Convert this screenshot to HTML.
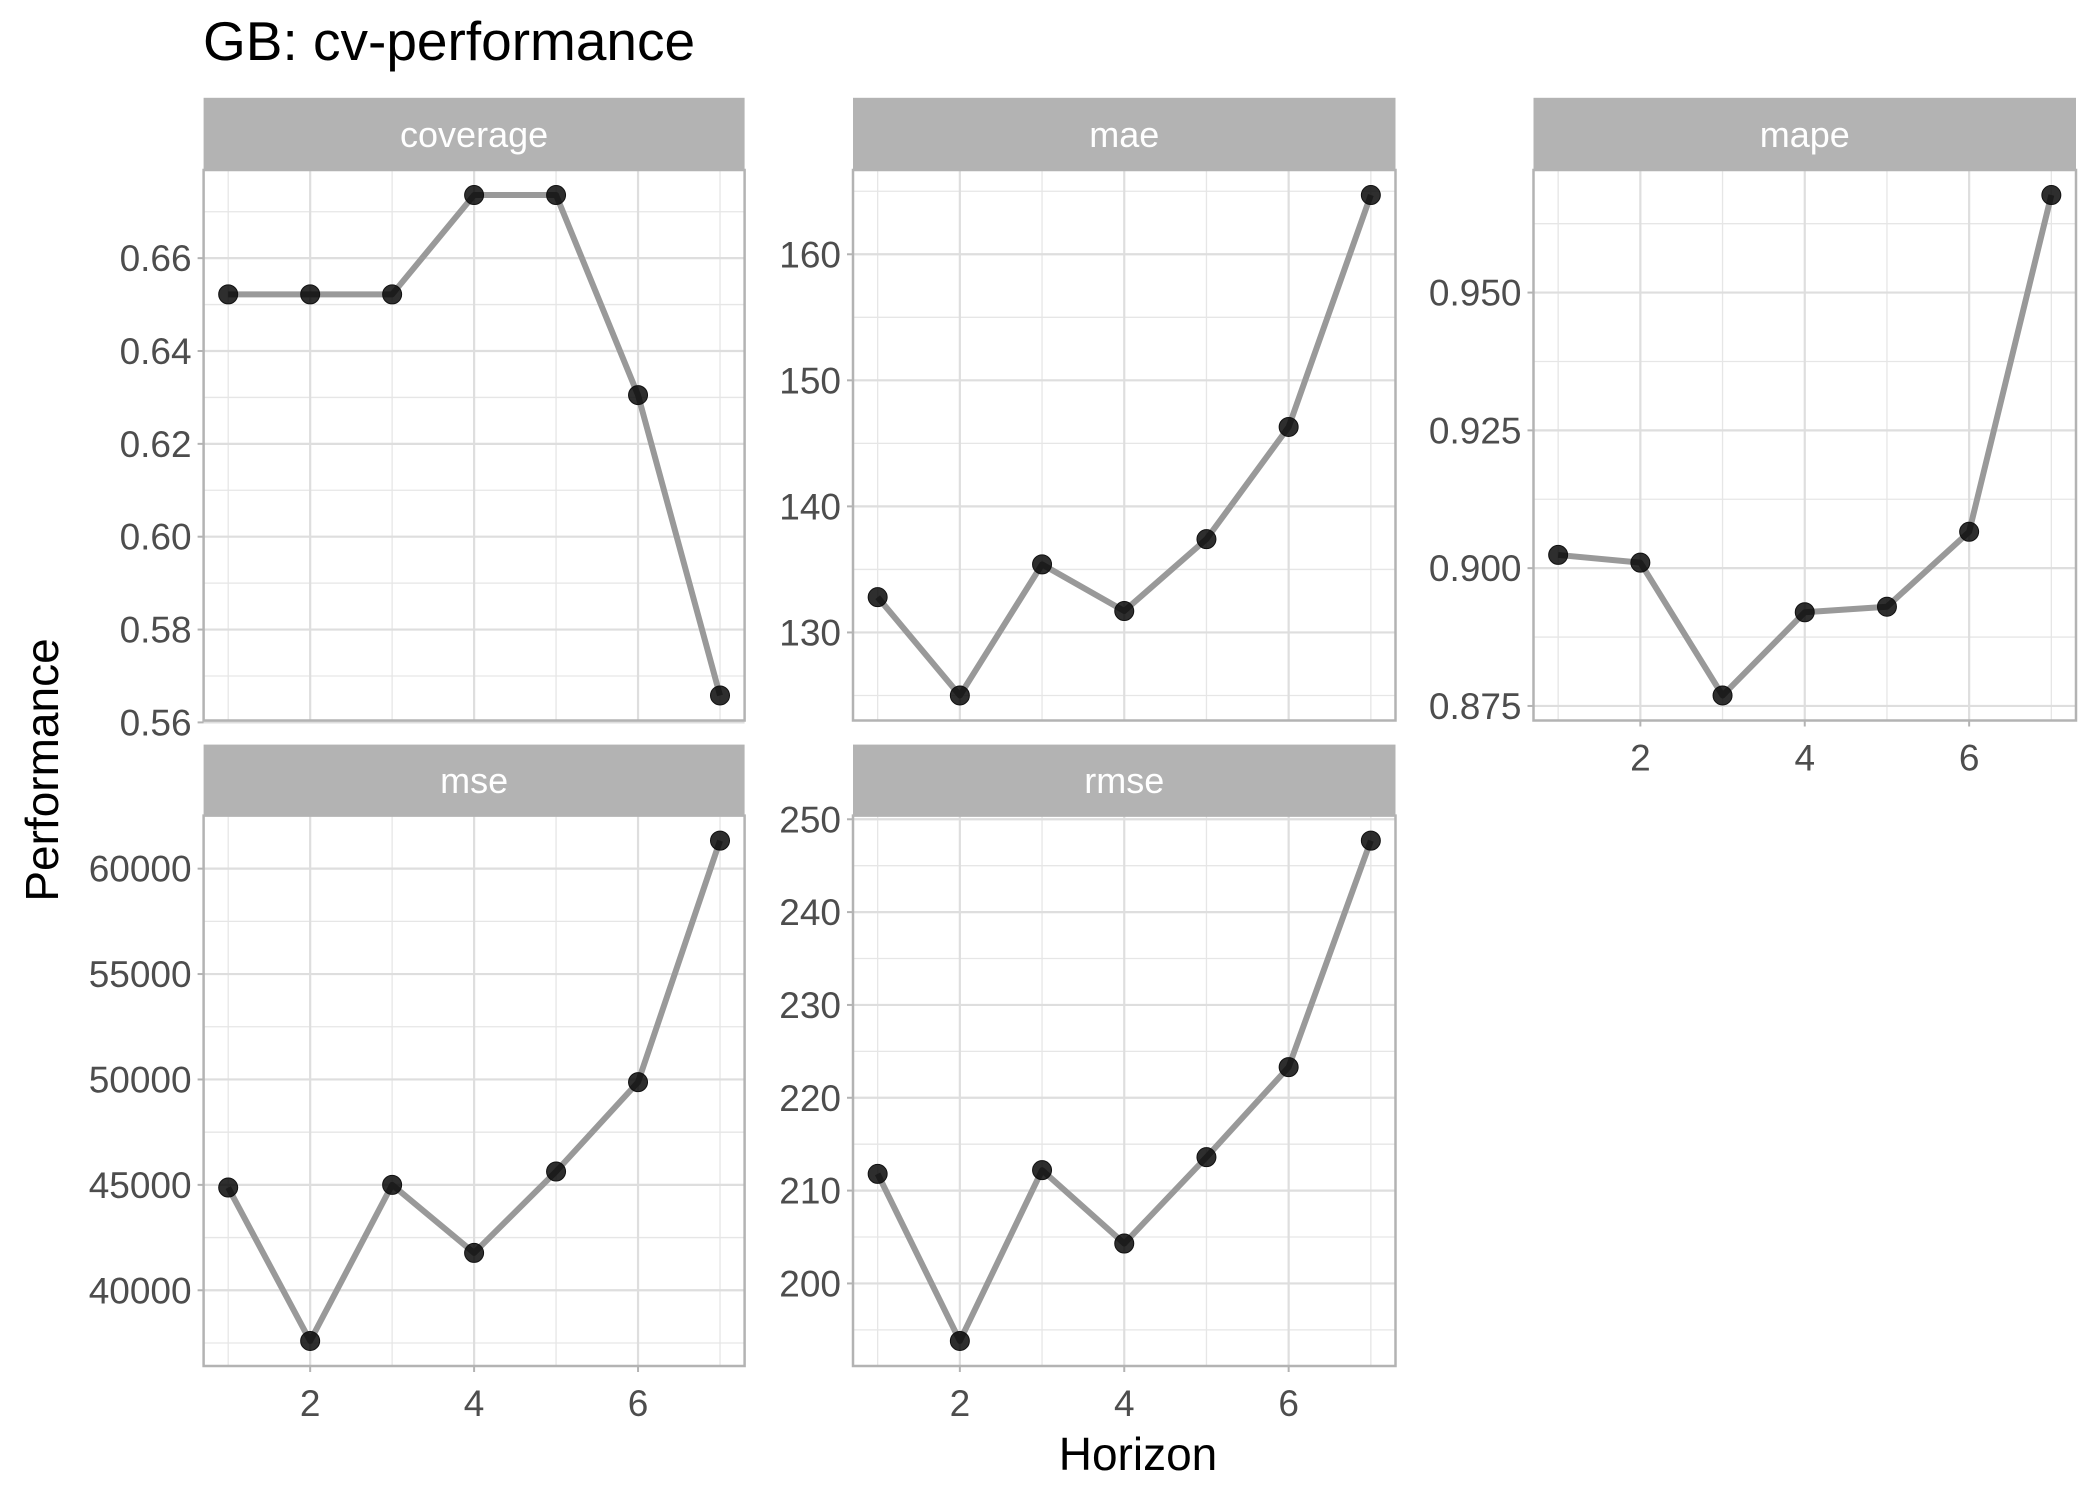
<!DOCTYPE html>
<html><head><meta charset="utf-8"><style>
html,body{margin:0;padding:0;background:#fff;}
svg{display:block;font-family:"Liberation Sans",sans-serif;}
</style></head><body>
<svg id="chart" width="2100" height="1500" viewBox="0 0 2100 1500" xmlns="http://www.w3.org/2000/svg">
<text x="203" y="60" font-size="55" fill="#000">GB: cv-performance</text>
<text transform="translate(58,770) rotate(-90)" text-anchor="middle" font-size="46" fill="#000">Performance</text>
<text x="1138" y="1470" text-anchor="middle" font-size="46" fill="#000">Horizon</text>
<g id="panels"></g>
</svg>
<script>
const horizons = [1,2,3,4,5,6,7];
const coverageVals = [0.6522,0.6522,0.6522,0.6736,0.6736,0.6305,0.5658];
const maeVals = [132.8,125.0,135.4,131.7,137.4,146.3,164.7];
const mapeVals = [0.9024,0.9010,0.8769,0.8920,0.8930,0.9066,0.9677];
const mseVals = [44873,37595,45000,41772,45633,49873,61329];
const rmseVals = [211.8,193.8,212.2,204.3,213.6,223.3,247.7];
const coverageTicks = [0.56,0.58,0.60,0.62,0.64,0.66];
const maeTicks = [130,140,150,160];
const mapeTicks = [0.875,0.900,0.925,0.950];
const mseTicks = [40000,45000,50000,55000,60000];
const rmseTicks = [200,210,220,230,240,250];
const xTicks = [2,4,6];

const NS="http://www.w3.org/2000/svg";
const root=document.getElementById('panels');
function mk(tag,attrs,parent){const e=document.createElementNS(NS,tag);for(const k in attrs)e.setAttribute(k,attrs[k]);(parent||root).appendChild(e);return e;}

const panels=[
 {name:'coverage',vals:coverageVals,ticks:coverageTicks,dec:2,x0:203.6,x1:744.6,st:97.8,y0:170,y1:720.5,xlab:false},
 {name:'mae',vals:maeVals,ticks:maeTicks,dec:0,x0:853,x1:1395.5,st:97.8,y0:170,y1:720.5,xlab:false},
 {name:'mape',vals:mapeVals,ticks:mapeTicks,dec:3,x0:1533.5,x1:2076,st:97.8,y0:170,y1:720.5,xlab:true},
 {name:'mse',vals:mseVals,ticks:mseTicks,dec:0,x0:203.6,x1:744.6,st:744.6,y0:815.6,y1:1366,xlab:true},
 {name:'rmse',vals:rmseVals,ticks:rmseTicks,dec:0,x0:853,x1:1395.5,st:744.6,y0:815.6,y1:1366,xlab:true}
];

panels.forEach(p=>{
  const g=mk('g',{});
  
  
  const mn=Math.min(...p.vals),mx=Math.max(...p.vals),pad=(mx-mn)*0.05;
  const lo=mn-pad,hi=mx+pad;
  const xs=v=>p.x0+(v-0.7)/6.6*(p.x1-p.x0);
  const ys=v=>p.y1-(v-lo)/(hi-lo)*(p.y1-p.y0);
  const s=mk('rect',{x:p.x0,y:p.st,width:p.x1-p.x0,height:p.y0-p.st,fill:'#b3b3b3'},g);
  
  
  const st=mk('text',{x:(p.x0+p.x1)/2,y:(p.st+p.y0)/2+13,'text-anchor':'middle','font-size':36,fill:'#fff'},g);
  st.textContent=p.name;
  
  
  const step=p.ticks[1]-p.ticks[0];
  for(let v=p.ticks[0]-step/2;v<=hi+1e-9;v+=step){ if(v<lo)continue;
    mk('line',{x1:p.x0,x2:p.x1,y1:ys(v),y2:ys(v),stroke:'#e6e6e6','stroke-width':1.3},g);}
  [1,3,5,7].forEach(v=>mk('line',{x1:xs(v),x2:xs(v),y1:p.y0,y2:p.y1,stroke:'#e6e6e6','stroke-width':1.3},g));
  p.ticks.forEach(v=>{
    mk('line',{x1:p.x0,x2:p.x1,y1:ys(v),y2:ys(v),stroke:'#dedede','stroke-width':2.2},g);
    mk('line',{x1:p.x0-6,x2:p.x0,y1:ys(v),y2:ys(v),stroke:'#b3b3b3','stroke-width':2},g);
    const t=mk('text',{x:p.x0-12,y:ys(v)+13,'text-anchor':'end','font-size':37,fill:'#4d4d4d'},g);
    t.textContent=v.toFixed(p.dec);
    
    
  });
  xTicks.forEach(v=>{
    mk('line',{x1:xs(v),x2:xs(v),y1:p.y0,y2:p.y1,stroke:'#dedede','stroke-width':2.2},g);
    if(p.xlab){
      mk('line',{x1:xs(v),x2:xs(v),y1:p.y1,y2:p.y1+6,stroke:'#b3b3b3','stroke-width':2},g);
      const t=mk('text',{x:xs(v),y:p.y1+50,'text-anchor':'middle','font-size':37,fill:'#4d4d4d'},g);
      t.textContent=v;
      
      
    }
  });
  const pts=horizons.map((h,i)=>xs(h)+','+ys(p.vals[i])).join(' ');
  const ln=mk('polyline',{points:pts,fill:'none',stroke:'#999','stroke-width':6,'stroke-linejoin':'round'},g);
  
  
  horizons.forEach((h,i)=>{
    const c=mk('circle',{cx:xs(h),cy:ys(p.vals[i]),r:9.5,fill:'rgba(0,0,0,0.82)',stroke:'#111','stroke-width':1},g);
    
    
  });
  mk('rect',{x:p.x0,y:p.y0,width:p.x1-p.x0,height:p.y1-p.y0,fill:'none',stroke:'#b3b3b3','stroke-width':2.5},g);
});
</script>
</body></html>
